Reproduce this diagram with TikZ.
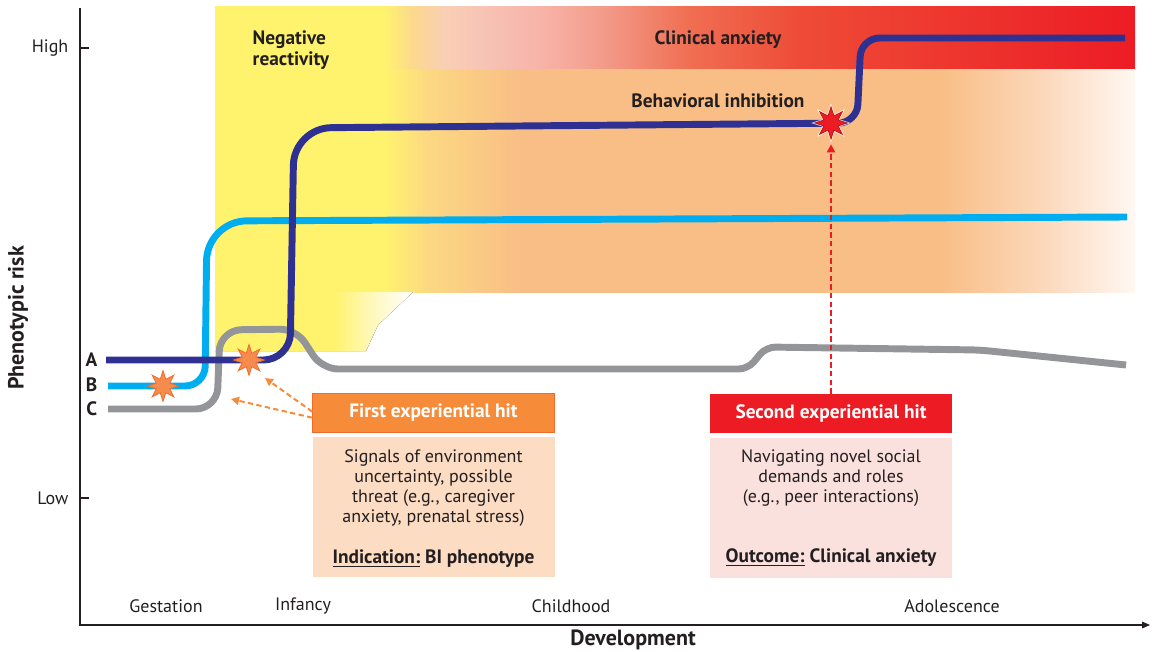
\documentclass[tikz,border=0pt]{standalone}
\usepackage{fontspec}
\setmainfont{PT Sans}
\usetikzlibrary{arrows.meta, positioning, shapes.geometric}

\definecolor{inkgray}{HTML}{231F20}
\definecolor{riskyellow}{HTML}{FFF36E}
\definecolor{riskred}{HTML}{ED1C24}
\definecolor{riskblue}{HTML}{2E3192}
\definecolor{riskcyan}{HTML}{00AEEF}
\definecolor{riskgray}{HTML}{939598}
\definecolor{starorange}{HTML}{F58B4C}
\definecolor{starline}{HTML}{F26B2B}
\definecolor{hitorange}{HTML}{F68B3A}
\definecolor{hitorangeline}{HTML}{F26B2B}
\definecolor{notepeach}{HTML}{FCDCC3}
\definecolor{notepink}{HTML}{FBE1DD}
\definecolor{bandamber}{HTML}{FCD88E}
\definecolor{bandpale}{HTML}{F9CFB4}
\definecolor{bandrose}{HTML}{F7C3B6}
\definecolor{bandpink}{HTML}{F8B3A8}
\definecolor{bandsalmon}{HTML}{F39D8C}
\definecolor{bandcoral}{HTML}{F06E52}
\definecolor{bandscarlet}{HTML}{EE4B37}
\definecolor{bandgold}{HTML}{FCD882}
\definecolor{bandpeach}{HTML}{F9BE86}
\definecolor{bandcream}{HTML}{FCD9BD}
\definecolor{bandwhite}{HTML}{FFF8F2}
\definecolor{bandlemon}{HTML}{FFF8B8}

% shadings: the path box maps onto 25bp--75bp
\pgfdeclarehorizontalshading{anxietyband}{100bp}{color(0bp)=(riskyellow); color(34.2bp)=(riskyellow);
  color(35.8bp)=(bandamber); color(37.5bp)=(bandpale); color(39.6bp)=(bandrose); color(42.7bp)=(bandpink);
  color(45.9bp)=(bandsalmon); color(50.8bp)=(bandcoral); color(56.8bp)=(bandscarlet);
  color(75bp)=(riskred); color(100bp)=(riskred)}
\pgfdeclarehorizontalshading{inhibitband}{100bp}{color(0bp)=(riskyellow); color(34.2bp)=(riskyellow);
  color(36.6bp)=(bandgold); color(41.6bp)=(bandpeach); color(64.5bp)=(bandpeach);
  color(70.2bp)=(bandcream); color(75bp)=(bandwhite); color(100bp)=(bandwhite)}
\pgfdeclarehorizontalshading{reactband}{100bp}{color(0bp)=(riskyellow); color(55.3bp)=(riskyellow);
  color(64.1bp)=(bandlemon); color(75bp)=(white); color(100bp)=(white)}

\begin{document}
\begin{tikzpicture}[x=0.75pt, y=-0.75pt,
  every node/.style={font=\fontsize{13.5}{15}\selectfont, text=inkgray},
  bandtext/.style={font=\bfseries\fontsize{14.5}{15.75}\selectfont},
  axistext/.style={font=\bfseries\fontsize{16.5}{18}\selectfont},
  curve/.style={line width=5.2pt},
  hit/.style={star, star points=8, star point ratio=2.1, minimum size=23pt, inner sep=0pt, line width=0.6pt},
  hitbox/.style={rectangle, minimum width=181.5pt, minimum height=29.5pt, inner sep=0pt,
    text=white, font=\bfseries\fontsize{14.5}{16}\selectfont},
  notebox/.style={rectangle, minimum width=181.5pt, minimum height=105pt, inner sep=0pt},
  hitarrow/.style={dash pattern=on 4pt off 2.5pt, line width=1.5pt, -{Triangle[length=6pt,width=6pt]}},
  axis/.style={line width=0.8pt, inkgray}]

\useasboundingbox (0,0) rectangle (1162,652);

% risk bands
\fill[shading=anxietyband] (215,7) rectangle (1135,70);
\fill[shading=inhibitband] (215,70) rectangle (1135,292);
\fill[shading=reactband] (215,292) -- (413,292) -- (378,325) -- (366,351) -- (215,351) -- cycle;

\node[bandtext, anchor=west, align=left] (negreact) at (248,50) {Negative\\reactivity};
\node[bandtext] (clinical) at (718,40) {Clinical anxiety};
\node[bandtext] (inhibit) at (718,101) {Behavioral inhibition};

% trajectories
\draw[curve, riskgray] (108,409) [rounded corners=16pt] -- (217,409) -- (220,330)
  [rounded corners=12pt] -- (296,329) -- (322,369) [rounded corners=7pt] -- (748,369)
  -- (766,347) -- (980,350) -- (1126,365);
\draw[curve, riskcyan] (108,386) [rounded corners=15pt] -- (205,386) [rounded corners=30pt]
  -- (207,221) -- (1127,217);
\draw[curve, riskblue] (106,360) [rounded corners=20pt] -- (290,360) [rounded corners=28pt]
  -- (294,128) [rounded corners=14pt] -- (857,123) -- (861,38) -- (1125,38);

\node[bandtext, anchor=east] (curveA) at (102,360) {A};
\node[bandtext, anchor=east] (curveB) at (102,385) {B};
\node[bandtext, anchor=east] (curveC) at (102,409) {C};

\node[hit, fill=starorange, draw=starline] (starB) at (163,386) {};
\node[hit, fill=starorange, draw=starline] (starA) at (249,360) {};
\node[hit, fill=white, draw=white, opacity=0.6, minimum size=28pt] (glow) at (831,123) {};
\node[hit, fill=riskred, draw=riskred!80!black, minimum size=24pt] (starR) at (831,123) {};

% experiential hits
\node[hitbox, fill=hitorange, draw=hitorangeline] (hitone) at (433.5,413) {First experiential hit};
\node[notebox, fill=notepeach, below=3pt of hitone] (hitonebody) {};
\node[align=center] (hitonetext) at (433.5,488) {Signals of environment\\uncertainty, possible\\threat (e.g., caregiver\\anxiety, prenatal stress)};
\node[font=\bfseries\fontsize{14.5}{16}\selectfont] (hitonenote) at (433.5,559) {\underline{Indication:} BI phenotype};

\node[hitbox, fill=riskred] (hittwo) at (831,413.5) {Second experiential hit};
\node[notebox, fill=notepink, below=3pt of hittwo] (hittwobody) {};
\node[align=center] (hittwotext) at (831,478) {Navigating novel social\\demands and roles\\(e.g., peer interactions)};
\node[font=\bfseries\fontsize{14.5}{16}\selectfont] (hittwonote) at (831,558) {\underline{Outcome:} Clinical anxiety};

\coordinate (tipA) at (265,378);
\coordinate (tipC) at (231,399);
\draw[hitarrow, hitorange] ([yshift=1pt]hitone.west) -- (tipA);
\draw[hitarrow, hitorange] ([yshift=-3.5pt]hitone.west) -- (tipC);
\draw[hitarrow, riskred, shorten >=3pt] (hittwo.north) -- (starR.south);

% axes
\coordinate (ytop) at (80,8);
\coordinate (origin) at (80,625);
\coordinate (xend) at (1150,625);
\draw[axis, -{Triangle[length=6pt,width=5pt]}] (ytop) -- (origin) -- (xend);

\node[anchor=east] (high) at (73,48) {High};
\node[anchor=east] (low) at (73,498) {Low};
\draw[axis] (high.east -| origin) -- ++(9,0);
\draw[axis] (low.east -| origin) -- ++(9,0);

\node[axistext, rotate=90] (riskaxis) at (18,318) {Phenotypic risk};
\node[axistext] (devaxis) at (633,640) {Development};

\node (gestation) at (166,606) {Gestation};
\node (infancy) at (303,606) {Infancy};
\node (childhood) at (571,606) {Childhood};
\node (adolescence) at (952,606) {Adolescence};

\end{tikzpicture}
\end{document}
